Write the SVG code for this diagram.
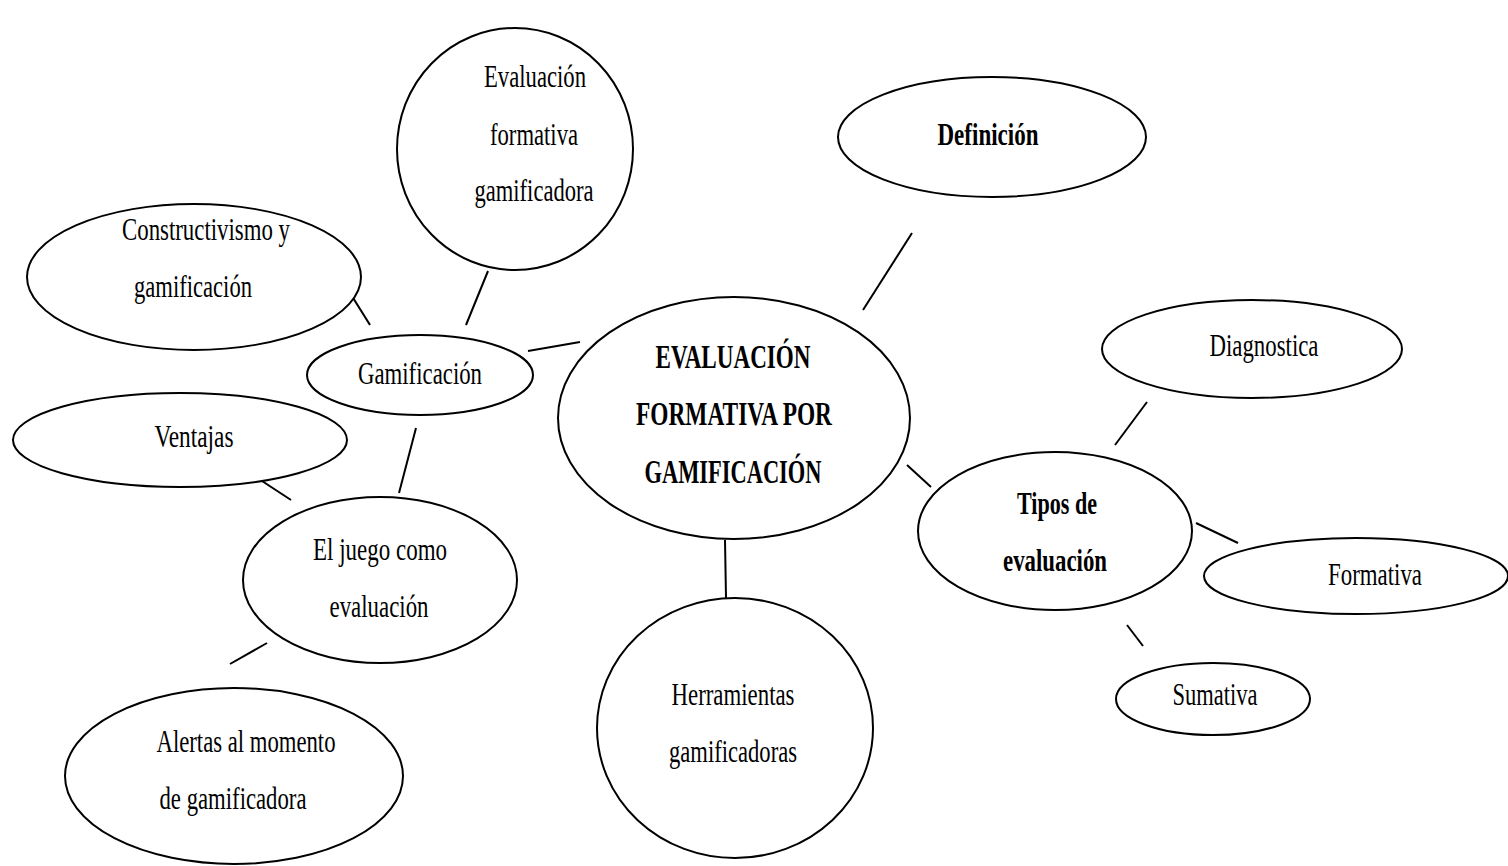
<svg xmlns="http://www.w3.org/2000/svg" width="1508" height="866" viewBox="0 0 1508 866">
<style>
.n{fill:#fff;stroke:#000;stroke-width:2}
.t{font-family:"Liberation Serif","DejaVu Serif",serif;font-size:31px;fill:#000;text-anchor:middle}
.b{font-weight:bold}
.c{stroke:#000;stroke-width:2;fill:none}
</style>
<rect width="1508" height="866" fill="#fff"/>
<g id="connectors">
<line class="c" x1="863" y1="310" x2="912" y2="233"/>
<line class="c" x1="528" y1="351" x2="580" y2="342"/>
<line class="c" x1="350" y1="293" x2="370" y2="325"/>
<line class="c" x1="466" y1="325" x2="488" y2="271"/>
<line class="c" x1="416" y1="428" x2="399" y2="493"/>
<line class="c" x1="262" y1="481" x2="291" y2="500"/>
<line class="c" x1="267" y1="643" x2="230" y2="664"/>
<line class="c" x1="725" y1="540" x2="726" y2="598"/>
<line class="c" x1="907" y1="465" x2="931" y2="487"/>
<line class="c" x1="1147" y1="402" x2="1115" y2="445"/>
<line class="c" x1="1196" y1="523" x2="1238" y2="543"/>
<line class="c" x1="1127" y1="625" x2="1143" y2="646"/>
</g>
<g id="central">
<ellipse class="n" cx="734" cy="418" rx="176" ry="121"/>
<text class="t b" style="font-size:34px" x="733" y="368" textLength="155" lengthAdjust="spacingAndGlyphs">EVALUACIÓN</text>
<text class="t b" style="font-size:34px" x="734" y="425" textLength="196" lengthAdjust="spacingAndGlyphs">FORMATIVA POR</text>
<text class="t b" style="font-size:34px" x="733" y="483" textLength="177" lengthAdjust="spacingAndGlyphs">GAMIFICACIÓN</text>
</g>
<g id="definicion">
<ellipse class="n" cx="992" cy="137" rx="154" ry="60"/>
<text class="t b" x="988" y="145" textLength="101" lengthAdjust="spacingAndGlyphs">Definición</text>
</g>
<g id="eval-formativa">
<ellipse class="n" cx="515" cy="149" rx="118" ry="121"/>
<text class="t" x="535" y="87" textLength="102" lengthAdjust="spacingAndGlyphs">Evaluación</text>
<text class="t" x="534" y="145" textLength="88" lengthAdjust="spacingAndGlyphs">formativa</text>
<text class="t" x="534" y="201" textLength="119" lengthAdjust="spacingAndGlyphs">gamificadora</text>
</g>
<g id="constructivismo">
<ellipse class="n" cx="194" cy="277" rx="167" ry="73"/>
<text class="t" x="206" y="240" textLength="168" lengthAdjust="spacingAndGlyphs">Constructivismo y</text>
<text class="t" x="193" y="297" textLength="118" lengthAdjust="spacingAndGlyphs">gamificación</text>
</g>
<g id="gamificacion">
<ellipse class="n" cx="420" cy="375" rx="113" ry="40"/>
<text class="t" x="420" y="384" textLength="124" lengthAdjust="spacingAndGlyphs">Gamificación</text>
</g>
<g id="ventajas">
<ellipse class="n" cx="180" cy="440" rx="167" ry="47"/>
<text class="t" x="194" y="447" textLength="79" lengthAdjust="spacingAndGlyphs">Ventajas</text>
</g>
<g id="juego">
<ellipse class="n" cx="380" cy="580" rx="137" ry="83"/>
<text class="t" x="380" y="560" textLength="134" lengthAdjust="spacingAndGlyphs">El juego como</text>
<text class="t" x="379" y="617" textLength="99" lengthAdjust="spacingAndGlyphs">evaluación</text>
</g>
<g id="alertas">
<ellipse class="n" cx="234" cy="776" rx="169" ry="88"/>
<text class="t" x="246" y="752" textLength="179" lengthAdjust="spacingAndGlyphs">Alertas al momento</text>
<text class="t" x="233" y="809" textLength="147" lengthAdjust="spacingAndGlyphs">de gamificadora</text>
</g>
<g id="herramientas">
<ellipse class="n" cx="735" cy="728" rx="138" ry="130"/>
<text class="t" x="733" y="705" textLength="123" lengthAdjust="spacingAndGlyphs">Herramientas</text>
<text class="t" x="733" y="762" textLength="128" lengthAdjust="spacingAndGlyphs">gamificadoras</text>
</g>
<g id="tipos">
<ellipse class="n" cx="1055" cy="531" rx="137" ry="79"/>
<text class="t b" x="1057" y="514" textLength="80" lengthAdjust="spacingAndGlyphs">Tipos de</text>
<text class="t b" x="1055" y="571" textLength="104" lengthAdjust="spacingAndGlyphs">evaluación</text>
</g>
<g id="diagnostica">
<ellipse class="n" cx="1252" cy="349" rx="150" ry="49"/>
<text class="t" x="1264" y="356" textLength="109" lengthAdjust="spacingAndGlyphs">Diagnostica</text>
</g>
<g id="formativa">
<ellipse class="n" cx="1356" cy="576" rx="152" ry="38"/>
<text class="t" x="1375" y="585" textLength="94" lengthAdjust="spacingAndGlyphs">Formativa</text>
</g>
<g id="sumativa">
<ellipse class="n" cx="1213" cy="699" rx="97" ry="36"/>
<text class="t" x="1215" y="705" textLength="85" lengthAdjust="spacingAndGlyphs">Sumativa</text>
</g>
</svg>
